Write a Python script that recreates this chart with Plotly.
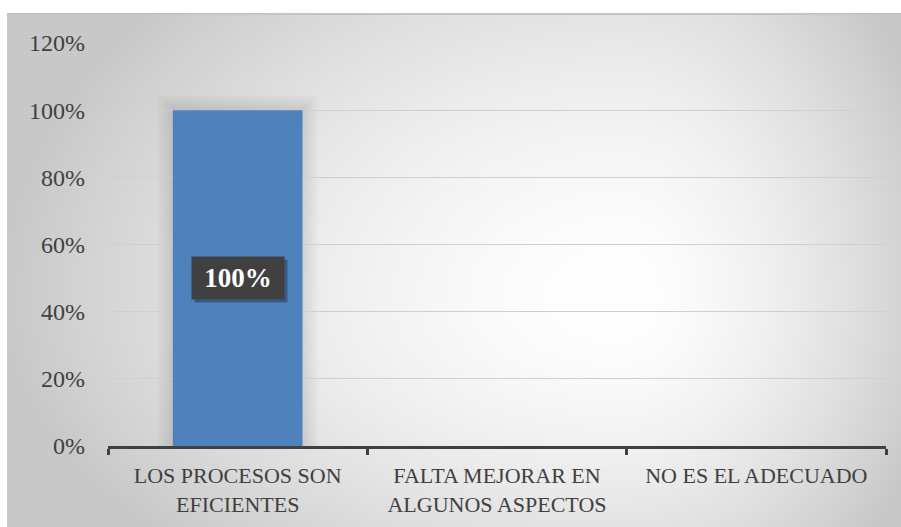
import base64
import struct
import zlib

import numpy as np
import plotly.graph_objects as go

categories = ["LOS PROCESOS SON<br>EFICIENTES", "FALTA MEJORAR EN<br>ALGUNOS ASPECTOS", "NO ES EL ADECUADO"]
values = [100, 0, 0]
y_ticks = [0, 20, 40, 60, 80, 100, 120]

W, H = 901, 527
ML, MR, MT, MB = 108, 15, 43, 81
PW, PH = W - ML - MR, H - MT - MB
FX0, FY0 = 7, 13  # chart frame top-left in page px


def png_gray(arr):
    h, w = arr.shape
    raw = b"".join(b"\x00" + arr[r].tobytes() for r in range(h))

    def chunk(tag, data):
        c = struct.pack(">I", len(data)) + tag + data
        return c + struct.pack(">I", zlib.crc32(tag + data) & 0xFFFFFFFF)

    return (b"\x89PNG\r\n\x1a\n" + chunk(b"IHDR", struct.pack(">IIBBBBB", w, h, 8, 0, 0, 0, 0))
            + chunk(b"IDAT", zlib.compress(raw, 9)) + chunk(b"IEND", b""))


# radial background gradient of the chart frame
fw, fh = W - FX0, H - FY0
xs = np.arange(fw) + FX0
ys = np.arange(fh) + FY0
cx, cy = 620, 300
X, Y = np.meshgrid(xs, ys)
dx = np.where(X < cx, (cx - X) / 620.0, (X - cx) / 330.0)
dy = np.where(Y < cy, (cy - Y) / 450.0, (Y - cy) / 350.0)
r = np.clip(np.sqrt(dx ** 2 + dy ** 2), 0, 1)
img = (255 - 55 * r ** 1.6).astype(np.uint8)
img[0:2, :] = 196
uri = "data:image/png;base64," + base64.b64encode(png_gray(img)).decode()

fig = go.Figure()
fig.add_trace(go.Bar(
    x=categories, y=values, width=0.5,
    marker=dict(color="#4f81bd", line=dict(width=0)),
    hoverinfo="skip",
))

px_per_cat = PW / 3.0
px_per_unit = PH / 120.0
shapes = []
annotations = []
for i, v in enumerate(values):
    if v <= 0:
        continue
    for k in range(1, 9):
        p = 2 * k
        shapes.append(dict(type="rect", xref="x", yref="y", layer="below",
                           x0=i - 0.25 - p / px_per_cat, x1=i + 0.25 + p / px_per_cat,
                           y0=0, y1=v + p / px_per_unit,
                           fillcolor="rgba(0,0,0,0.012)", line=dict(width=0)))
    annotations.append(dict(x=i, y=v / 2, xref="x", yref="y", text=" ", showarrow=False,
                            width=90, height=40, bgcolor="rgba(0,0,0,0.3)",
                            xshift=3, yshift=-3,
                            font=dict(family="Liberation Serif", size=27, color="rgba(0,0,0,0)")))
    annotations.append(dict(x=i, y=v / 2, xref="x", yref="y", text=f"<b>{v:.0f}%</b>",
                            showarrow=False, width=90, height=40, bgcolor="#404040",
                            font=dict(family="Liberation Serif", size=27, color="white")))

fig.update_layout(
    width=W, height=H,
    margin=dict(l=ML, r=MR, t=MT, b=MB, pad=0),
    paper_bgcolor="white",
    plot_bgcolor="rgba(0,0,0,0)",
    showlegend=False,
    images=[dict(source=uri, xref="paper", yref="paper",
                 x=(FX0 - ML) / PW, y=(H - MB - FY0) / PH,
                 sizex=fw / PW, sizey=fh / PH, sizing="stretch",
                 xanchor="left", yanchor="top", layer="below")],
    shapes=shapes,
    annotations=annotations,
    xaxis=dict(
        type="category",
        range=[-0.5, len(categories) - 0.5],
        showline=True, linecolor="#404040", linewidth=3,
        ticks="outside", tickson="boundaries", ticklen=6, tickwidth=3, tickcolor="#404040",
        showgrid=False, zeroline=False, automargin=False,
        tickfont=dict(family="Liberation Serif", size=22, color="#404040"),
        ticklabelstandoff=8,
    ),
    yaxis=dict(
        range=[0, 120], tickmode="array", tickvals=y_ticks,
        ticktext=[f"{t}%" for t in y_ticks],
        showgrid=True, gridcolor="#cfcfcf", gridwidth=1,
        zeroline=False, showline=False, ticks="", automargin=False,
        tickfont=dict(family="Liberation Serif", size=24, color="#404040"),
        ticklabelstandoff=22,
    ),
)

fig.write_html(
    "out.html",
    config={"displayModeBar": False},
    post_script="document.body.style.margin='0';document.body.style.overflow='hidden';",
)
